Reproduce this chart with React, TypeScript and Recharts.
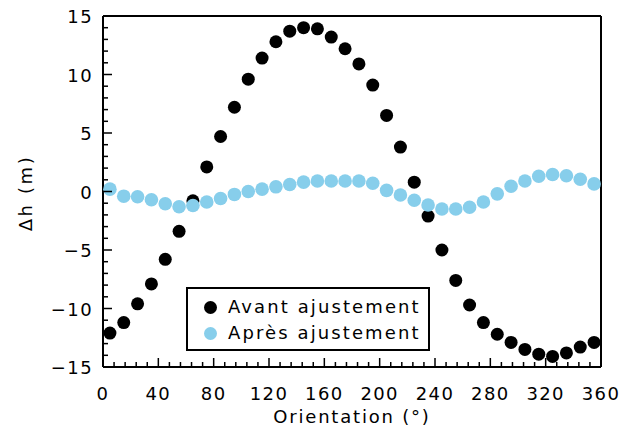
import { ScatterChart, Scatter, XAxis, YAxis, Legend, Label } from 'recharts';

const ORIENTATION = [5, 15, 25, 35, 45, 55, 65, 75, 85, 95, 105, 115, 125, 135, 145, 155, 165, 175,
  185, 195, 205, 215, 225, 235, 245, 255, 265, 275, 285, 295, 305, 315, 325, 335, 345, 355];

// Avant ajustement (m)
const AVANT = [-12.1, -11.2, -9.6, -7.9, -5.8, -3.4, -0.8, 2.1, 4.7, 7.2, 9.6, 11.4, 12.8, 13.7,
  14.0, 13.9, 13.2, 12.2, 10.9, 9.1, 6.5, 3.8, 0.8, -2.1, -5.0, -7.6, -9.7, -11.2,
  -12.2, -12.9, -13.5, -13.9, -14.1, -13.8, -13.3, -12.9];

// Après ajustement (m)
const APRES = [0.2, -0.4, -0.45, -0.7, -1.05, -1.3, -1.2, -0.9, -0.6, -0.25, 0.0, 0.2, 0.4, 0.6,
  0.8, 0.9, 0.9, 0.9, 0.9, 0.7, 0.1, -0.3, -0.75, -1.15, -1.5, -1.5, -1.35, -0.9,
  -0.2, 0.45, 0.9, 1.3, 1.45, 1.35, 1.05, 0.65];

// minor ticks every 8°, labelled every 40°
const X_TICKS = [0, 8, 16, 24, 32, 40, 48, 56, 64, 72, 80, 88, 96, 104, 112, 120, 128, 136, 144, 152,
  160, 168, 176, 184, 192, 200, 208, 216, 224, 232, 240, 248, 256, 264, 272, 280, 288, 296, 304, 312,
  320, 328, 336, 344, 352, 360];
const Y_TICKS = [-15, -14, -13, -12, -11, -10, -9, -8, -7, -6, -5, -4, -3, -2, -1, 0, 1, 2, 3, 4, 5,
  6, 7, 8, 9, 10, 11, 12, 13, 14, 15];

const FONT = '"DejaVu Sans", sans-serif';
const BLUE = '#87CEEB';

const avantData = ORIENTATION.map((x, i) => ({ x, y: AVANT[i] }));
const apresData = ORIENTATION.map((x, i) => ({ x, y: APRES[i] }));

const fmt = (v: number) => (v < 0 ? `\u2212${-v}` : `${v}`);

function FrameTick(props: any) {
  const { x, y, payload, side } = props;
  const v = payload.value as number;
  const horizontal = side === 'top' || side === 'bottom';
  const major = horizontal ? v % 40 === 0 : v % 5 === 0;
  const len = major ? 9 : 5;
  const txt = { fontFamily: FONT, fontSize: 18, fill: '#000', letterSpacing: 1.4 };
  if (side === 'bottom') {
    return (
      <g>
        <line x1={x} y1={y} x2={x} y2={y - len} stroke="#000" strokeWidth={1.5} />
        {major && <text x={x} y={y + 33} textAnchor="middle" style={txt}>{fmt(v)}</text>}
      </g>
    );
  }
  if (side === 'top') {
    return <line x1={x} y1={y} x2={x} y2={y + len} stroke="#000" strokeWidth={1.5} />;
  }
  if (side === 'left') {
    return (
      <g>
        <line x1={x} y1={y} x2={x + len} y2={y} stroke="#000" strokeWidth={1.5} />
        {major && <text x={x - 10} y={y + 7} textAnchor="end" style={txt}>{fmt(v)}</text>}
      </g>
    );
  }
  return <line x1={x} y1={y} x2={x - len} y2={y} stroke="#000" strokeWidth={1.5} />;
}

function LegendBox() {
  const row = { display: 'flex', alignItems: 'center', height: 26 };
  const dot = (c: string) => ({ width: 13, height: 13, borderRadius: '50%', background: c, marginLeft: 16, marginRight: 11 });
  return (
    <div style={{ boxSizing: 'border-box', width: 244, height: 64, border: '2px solid #000', background: '#fff',
      paddingTop: 5, fontFamily: FONT, fontSize: 18, letterSpacing: 2.1, color: '#000', lineHeight: '26px' }}>
      <div style={row}><span style={dot('#000')} />Avant ajustement</div>
      <div style={row}><span style={dot(BLUE)} />Après ajustement</div>
    </div>
  );
}

export default function App() {
  return (
    <div style={{ position: 'absolute', left: 0, top: 0, background: '#fff' }}>
      <ScatterChart width={623} height={432} margin={{ top: 11, right: 17, bottom: 35, left: 43 }}>
        <XAxis xAxisId="b" orientation="bottom" type="number" dataKey="x" domain={[0, 360]} ticks={X_TICKS}
          interval={0} height={30} tickSize={0} tickMargin={0} tickLine={false}
          axisLine={{ stroke: '#000', strokeWidth: 2 }} tick={(p: any) => <FrameTick {...p} side="bottom" />}>
          <Label value="Orientation (°)" position="bottom" offset={13}
            style={{ fontFamily: FONT, fontSize: 18, fill: '#000', letterSpacing: 1.8 }} />
        </XAxis>
        <XAxis xAxisId="t" orientation="top" type="number" dataKey="x" domain={[0, 360]} ticks={X_TICKS}
          interval={0} height={5} tickSize={0} tickMargin={0} tickLine={false}
          axisLine={{ stroke: '#000', strokeWidth: 2 }} tick={(p: any) => <FrameTick {...p} side="top" />} />
        <YAxis yAxisId="l" orientation="left" type="number" dataKey="y" domain={[-15, 15]} ticks={Y_TICKS}
          interval={0} width={60} tickSize={0} tickMargin={0} tickLine={false}
          axisLine={{ stroke: '#000', strokeWidth: 2 }} tick={(p: any) => <FrameTick {...p} side="left" />}>
          <Label content={() => (
            <text x={32} y={193} transform="rotate(-90 32 193)" textAnchor="middle"
              style={{ fontFamily: FONT, fontSize: 18, fill: '#000', letterSpacing: 2.6 }}>Δh (m)</text>
          )} />
        </YAxis>
        <YAxis yAxisId="r" orientation="right" type="number" dataKey="y" domain={[-15, 15]} ticks={Y_TICKS}
          interval={0} width={5} tickSize={0} tickMargin={0} tickLine={false}
          axisLine={{ stroke: '#000', strokeWidth: 2 }} tick={(p: any) => <FrameTick {...p} side="right" />} />
        <Scatter name="Avant ajustement" data={avantData} xAxisId="b" yAxisId="l" isAnimationActive={false}
          shape={(p: any) => <circle cx={p.cx} cy={p.cy} r={6.5} fill="#000" />} />
        <Scatter name="Après ajustement" data={apresData} xAxisId="b" yAxisId="l" isAnimationActive={false}
          shape={(p: any) => <circle cx={p.cx} cy={p.cy} r={6.8} fill={BLUE} />} />
        <Legend layout="vertical" align="center" verticalAlign="middle" content={() => <LegendBox />}
          wrapperStyle={{ left: 186, top: 287, width: 244, height: 64 }} />
      </ScatterChart>
    </div>
  );
}
